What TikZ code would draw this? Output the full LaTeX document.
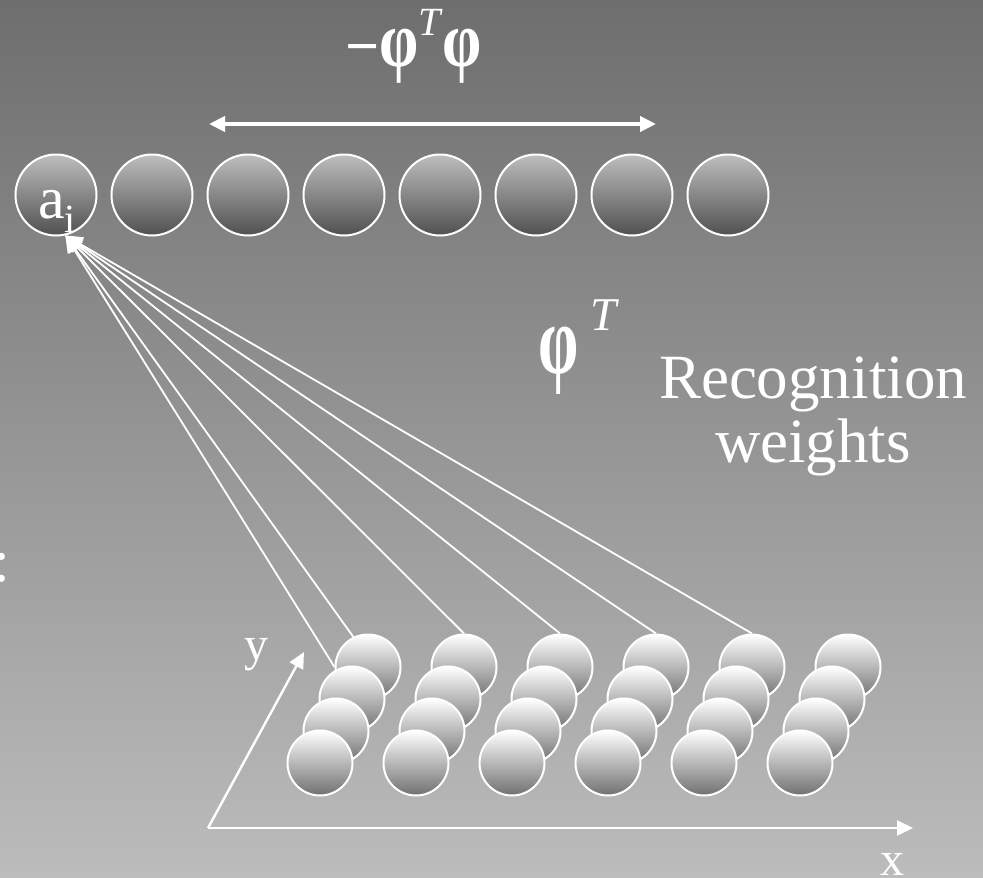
\documentclass[tikz,border=0pt]{standalone}
\usepackage{fontspec}
\setmainfont{Liberation Serif}
\definecolor{bgtop}{RGB}{110, 110, 110}
\definecolor{bgmid}{RGB}{160, 160, 160}
\definecolor{bgbot}{RGB}{188, 188, 188}
\definecolor{unittop}{RGB}{190, 190, 190}
\definecolor{unitmid}{RGB}{155, 155, 155}
\definecolor{unitbot}{RGB}{80, 80, 80}
\definecolor{pixmid}{RGB}{222, 222, 222}
\definecolor{pixbot}{RGB}{112, 112, 112}
\usetikzlibrary{arrows.meta, positioning, shadings}
\pgfdeclarelayer{back}
\pgfdeclarelayer{wires}
\pgfsetlayers{back,wires,main}
\newcommand{\tallphi}[2]{\scalebox{#1}[#2]{φ}}
\tikzset{
	unit/.style={circle, draw=white, line width=2pt, minimum size=81pt, inner sep=0pt, top color=unittop, middle color=unitmid, bottom color=unitbot},
	pixel/.style={circle, draw=white, line width=2pt, minimum size=65pt, inner sep=0pt, top color=white, middle color=pixmid, bottom color=pixbot},
	weight/.style={-{Triangle[length=17pt, width=15pt]}, line width=1.8pt, draw=white},
	span/.style={{Triangle[length=16pt, width=15pt]}-{Triangle[length=16pt, width=15pt]}, line width=4pt, draw=white},
	axis/.style={-{Triangle[length=16pt, width=15pt]}, line width=2.4pt, draw=white},
	lbl/.style={inner sep=0pt, text=white},
}

\begin{document}
\begin{tikzpicture}[x=1pt, y=1pt]
		\useasboundingbox (0,0) rectangle (983,-878);
		\begin{pgfonlayer}{back}
			\shade[top color=bgtop, middle color=bgmid, bottom color=bgbot] (0,0) rectangle (983,-878);
		\end{pgfonlayer}
		% coefficient units
		\node[unit] (a1) at (56,-195) {};
		\foreach \i [count=\j from 2] in {1,...,7}
			\node[unit, right=13pt of a\i] (a\j) {};
		\node[lbl, anchor=base west, font=\fontsize{60}{60}\selectfont] (ailbl) at ([xshift=-18pt, yshift=-23pt]a1.center) {a\raisebox{-14pt}{\fontsize{40}{40}\selectfont i}};
		\coordinate (spanl) at (209,-124);
		\coordinate (spanr) at (656,-124);
		\draw[span] (spanl) -- (spanr);
		\node[lbl, anchor=base west, font=\fontsize{60}{60}\selectfont\bfseries] (gram) at (345,-66) {−\tallphi{1.05}{1.32}\raisebox{31pt}{\fontsize{40}{40}\selectfont\mdseries\itshape T}\hspace{2pt}\tallphi{1.05}{1.32}};
		% image pixels
		\foreach \c in {0,...,5}
			\foreach \r in {0,...,3}
				\node[pixel] (g\c\r) at (368+96*\c-16*\r, -667-32*\r) {};
		\begin{pgfonlayer}{wires}
			\foreach \s in {g00.180, g00.116, g10.north, g20.north, g30.north, g40.north}
				\draw[weight] (\s) -- (a1.-77);
		\end{pgfonlayer}
		\node[lbl, anchor=base west, font=\fontsize{68}{68}\selectfont\bfseries] (phit) at (538,-373) {\tallphi{0.95}{1.45}\hspace{12pt}\raisebox{43pt}{\fontsize{47}{47}\selectfont\mdseries\itshape T}};
		\node[lbl, align=center, font=\fontsize{63}{64}\selectfont] (recog) at (813,-416) {Recognition\\weights};
		\node[lbl, anchor=base, font=\fontsize{60}{60}\selectfont] (colon) at (2,-581) {:};
		% axes
		\coordinate (origin) at (208,-828);
		\coordinate (xend) at (913,-828);
		\coordinate (yend) at (304,-652);
		\draw[axis] (origin) -- (xend);
		\draw[axis] (origin) -- (yend);
		\node[lbl, anchor=base, font=\fontsize{48}{48}\selectfont] (xlbl) at (892,-875) {x};
		\node[lbl, anchor=base, font=\fontsize{48}{48}\selectfont] (ylbl) at (256,-660) {y};
	\end{tikzpicture}
\end{document}
